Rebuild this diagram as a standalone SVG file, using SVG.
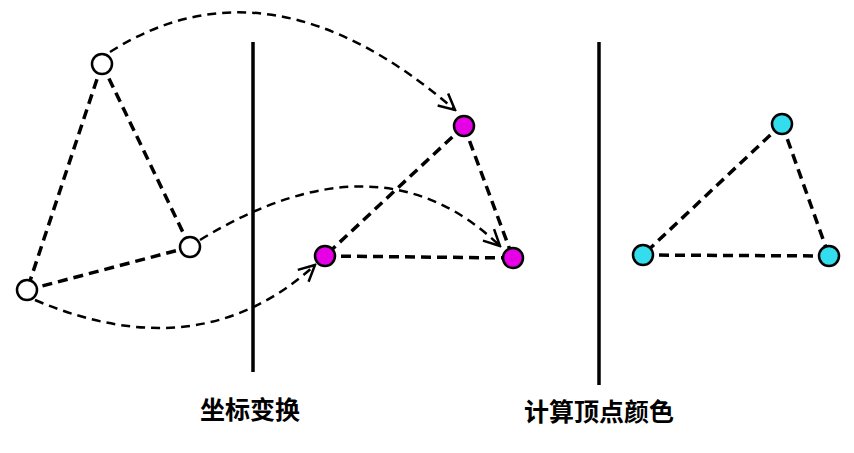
<svg xmlns="http://www.w3.org/2000/svg" width="854" height="453" viewBox="0 0 854 453">
<style>
.e{fill:none;stroke:#000;stroke-width:3.5;stroke-dasharray:10,6}
.a{fill:none;stroke:#000;stroke-width:2.5;stroke-dasharray:9,6}
.n{stroke:#000;stroke-width:2.5}
.t{font-family:"Noto Sans CJK SC",sans-serif;font-weight:bold;font-size:25px;text-anchor:middle}
</style>
<defs><marker id="m" viewBox="0 0 20 20" refX="18" refY="10" markerWidth="20" markerHeight="20" markerUnits="userSpaceOnUse" orient="auto"><polyline points="2,2 18,10 2,18" fill="none" stroke="#000" stroke-width="2.5"/></marker></defs>
<g id="connectors">
<line x1="253" y1="42" x2="253" y2="372" stroke="#000" stroke-width="3.5"/>
<line x1="599" y1="42" x2="599" y2="385" stroke="#000" stroke-width="3.5"/>
<line class="e" x1="102" y1="64" x2="27" y2="290"/>
<line class="e" x1="102" y1="64" x2="190" y2="247"/>
<line class="e" x1="27" y1="290" x2="190" y2="247"/>
<line class="e" x1="464" y1="126" x2="325" y2="256"/>
<line class="e" x1="464" y1="126" x2="513" y2="258"/>
<line class="e" x1="325" y1="256" x2="513" y2="258"/>
<line class="e" x1="782" y1="124" x2="643" y2="255"/>
<line class="e" x1="782" y1="124" x2="829" y2="256"/>
<line class="e" x1="643" y1="255" x2="829" y2="256"/>
<path class="a" d="M110,52 Q270,-50 455,110" marker-end="url(#m)"/>
<path class="a" d="M200,240 Q380,130 500,246" marker-end="url(#m)"/>
<path class="a" d="M35,300 Q200,370 315,265" marker-end="url(#m)"/>
</g>
<g id="n1"><circle class="n" cx="102" cy="64" r="10" fill="#fff"/></g>
<g id="n2"><circle class="n" cx="190" cy="247" r="10" fill="#fff"/></g>
<g id="n3"><circle class="n" cx="27" cy="290" r="10" fill="#fff"/></g>
<g id="m1"><circle class="n" cx="464" cy="126" r="10" fill="#e600e6"/></g>
<g id="m2"><circle class="n" cx="325" cy="256" r="10" fill="#e600e6"/></g>
<g id="m3"><circle class="n" cx="513" cy="258" r="10" fill="#e600e6"/></g>
<g id="c1"><circle class="n" cx="782" cy="124" r="10" fill="#33ddee"/></g>
<g id="c2"><circle class="n" cx="643" cy="255" r="10" fill="#33ddee"/></g>
<g id="c3"><circle class="n" cx="829" cy="256" r="10" fill="#33ddee"/></g>
<text class="t" x="250" y="419">坐标变换</text>
<text class="t" x="599" y="421">计算顶点颜色</text>
</svg>
